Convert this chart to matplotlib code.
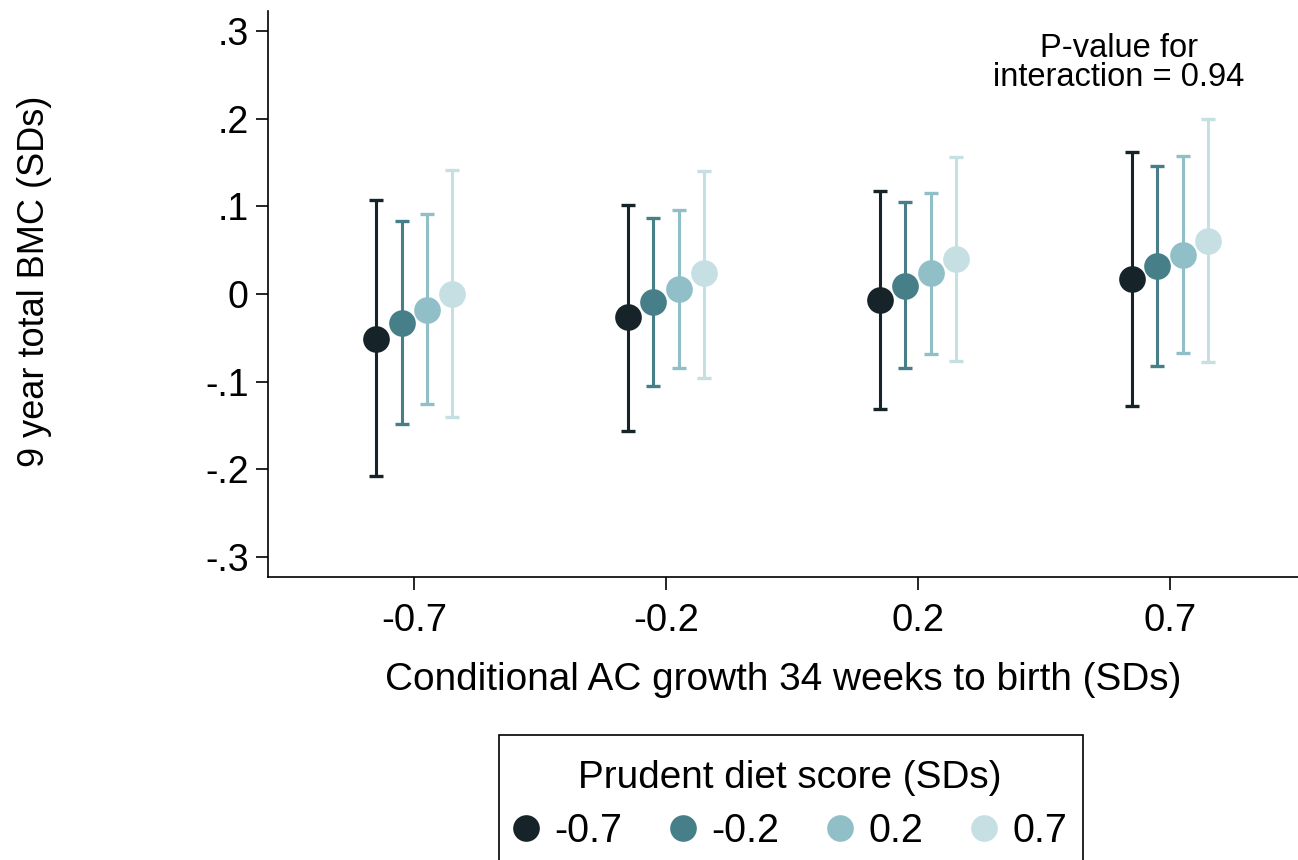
import matplotlib
matplotlib.use("Agg")
import matplotlib.pyplot as plt
from matplotlib.lines import Line2D
from matplotlib.patches import Rectangle
import numpy as np

plt.rcParams['font.family'] = ['Liberation Sans', 'DejaVu Sans']

# Data
x_categories = ["-0.7", "-0.2", "0.2", "0.7"]          # Conditional AC growth (SDs)
diet_levels = ["-0.7", "-0.2", "0.2", "0.7"]           # Prudent diet score (SDs)
colors = ["#16242A", "#467F87", "#90BFC7", "#C5DFE2"]

est_m07 = [-0.051, -0.026, -0.007, 0.017]
lo_m07 = [-0.208, -0.156, -0.131, -0.128]
hi_m07 = [0.107, 0.102, 0.117, 0.162]

est_m02 = [-0.033, -0.009, 0.009, 0.032]
lo_m02 = [-0.148, -0.105, -0.085, -0.082]
hi_m02 = [0.083, 0.087, 0.105, 0.146]

est_p02 = [-0.018, 0.006, 0.024, 0.044]
lo_p02 = [-0.125, -0.085, -0.069, -0.067]
hi_p02 = [0.091, 0.096, 0.115, 0.157]

est_p07 = [0.000, 0.024, 0.040, 0.061]
lo_p07 = [-0.140, -0.096, -0.077, -0.078]
hi_p07 = [0.142, 0.140, 0.156, 0.200]

series = [(est_m07, lo_m07, hi_m07), (est_m02, lo_m02, hi_m02),
          (est_p02, lo_p02, hi_p02), (est_p07, lo_p07, hi_p07)]
offsets = [-0.15, -0.05, 0.05, 0.15]

yticks = [-0.3, -0.2, -0.1, 0.0, 0.1, 0.2, 0.3]
ytick_labels = ["-.3", "-.2", "-.1", "0", ".1", ".2", ".3"]

W, H = 1298, 860
fig = plt.figure(figsize=(W / 100, H / 100), dpi=100)
ax = fig.add_axes([268 / W, 1 - 577 / H, 1 - 268 / W, (577 - 11) / H])

base = np.arange(1, len(x_categories) + 1)
for (est, lo, hi), off, col in zip(series, offsets, colors):
    xs = base + off
    est = np.array(est); lo = np.array(lo); hi = np.array(hi)
    ax.errorbar(xs, est, yerr=[est - lo, hi - est], fmt='none', ecolor=col,
                elinewidth=2.2, capsize=4.8, capthick=2.4, zorder=2)
    ax.plot(xs, est, 'o', color=col, markersize=19.2, markeredgewidth=0, zorder=3)

ax.set_xlim(0.42, 4.508)
ax.set_ylim(-0.323, 0.323)
ax.set_xticks(base)
ax.set_xticklabels(x_categories, fontsize=27.5)
ax.set_yticks(yticks)
ax.set_yticklabels(ytick_labels, fontsize=27)
ax.tick_params(axis='both', length=9, width=1.2, color='black')
ax.tick_params(axis='x', pad=10)
ax.tick_params(axis='y', pad=5)
for s in ['top', 'right']:
    ax.spines[s].set_visible(False)
for s in ['left', 'bottom']:
    ax.spines[s].set_linewidth(1.2)

ax.set_xlabel("Conditional AC growth 34 weeks to birth (SDs)", fontsize=27.9, labelpad=16)
fig.text(35 / W, 1 - 281 / H, "9 year total BMC (SDs)", fontsize=26, rotation=90,
         ha='center', va='center')

fig.text(1119 / W, 1 - 63 / H, "P-value for\ninteraction = 0.94", fontsize=23.5,
         ha='center', va='center', linespacing=0.95)

# Legend frame (extends past the bottom edge as in the reference)
fig.patches.append(Rectangle((499 / W, -0.05), (1083 - 499) / W, 0.05 + (860 - 735) / H,
                             transform=fig.transFigure, fill=False,
                             edgecolor='black', linewidth=1.2))

handles = [Line2D([], [], marker='o', linestyle='none', color=c, markersize=19.2,
                  markeredgewidth=0) for c in colors]
leg = fig.legend(handles, diet_levels, ncol=4, loc='upper center',
                 bbox_to_anchor=(790 / W, 1 - 760 / H), fontsize=28.5,
                 title="Prudent diet score (SDs)", title_fontsize=27.9,
                 frameon=False, handlelength=0.66, handletextpad=0.38,
                 columnspacing=1.21, borderpad=0, borderaxespad=0,
                 labelspacing=0.4)

fig.savefig("out.png", dpi=100)
